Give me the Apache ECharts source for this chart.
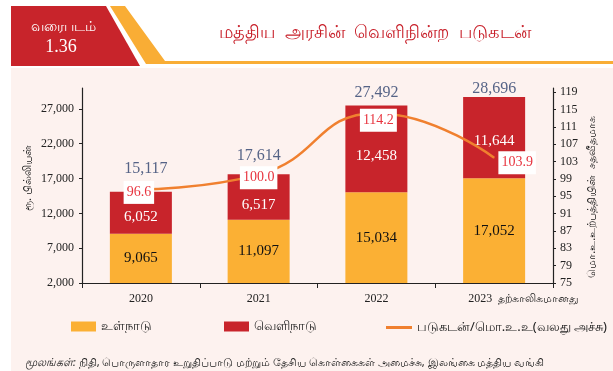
<!DOCTYPE html>
<html>
<head>
<meta charset="utf-8">
<script src="https://cdn.jsdelivr.net/npm/echarts@6/dist/echarts.min.js"></script>
<style>
  html, body { margin: 0; padding: 0; background: #ffffff; }
  #chart { width: 613px; height: 371px; }
</style>
</head>
<body>
<div id="chart"></div>
<script>
// Central government outstanding debt (Rs. billion) and debt/GDP ratio
const years = ['2020', '2021', '2022', '2023'];
const domestic = [9065, 11097, 15034, 17052];
const foreign = [6052, 6517, 12458, 11644];
const totals = [15117, 17614, 27492, 28696];
const debtToGdp = [96.6, 100.0, 114.2, 103.9];
const leftTicks = [2000, 7000, 12000, 17000, 22000, 27000];
const rightTicks = [75, 79, 83, 87, 91, 95, 99, 103, 107, 111, 115, 119];

const SERIF = 'Liberation Serif, Times New Roman, serif';
const SANS = 'Noto Sans, DejaVu Sans, sans-serif';
const RED = '#c8242b';
const ORANGE = '#fbb034';
const LINE = '#f0802f';

const chart = echarts.init(document.getElementById('chart'), null, { renderer: 'canvas' });

const fmt = v => v.toLocaleString('en-US');

// per-point label nudges
const foreignLabelOffsets = [[0, 4], [0, 8], [0, 7], [0, 3]];
const totalLabelOffsets = [[5, -9], [0, -5], [0, 1], [0, 5]];
const ratioLabelOffsets = [[-2, 3], [0, 3], [2, 7], [23, 5]];

chart.setOption({
  animation: false,
  backgroundColor: '#ffffff',
  graphic: [
    { type: 'rect', shape: { x: 11, y: 68, width: 602, height: 303 }, style: { fill: '#fdf2ef' }, z: -10 },
    { type: 'polygon', shape: { points: [[11, 6], [106, 6], [140, 66], [11, 66]] }, style: { fill: RED } },
    { type: 'polygon', shape: { points: [[110, 6], [125, 6], [165, 61], [613, 61], [613, 64], [146, 64]] }, style: { fill: '#f9ad35' } },
    { type: 'text', x: 63, y: 27, style: { text: 'வரைபடம்', fill: '#ffffff', font: '14px ' + SANS, align: 'center', verticalAlign: 'middle' } },
    { type: 'text', x: 61, y: 47, style: { text: '1.36', fill: '#ffffff', font: '18px ' + SERIF, align: 'center', verticalAlign: 'middle' } },
    { type: 'text', x: 375, y: 33, style: { text: 'மத்திய  அரசின்  வெளிநின்ற  படுகடன்', fill: '#c8202a', font: '18px ' + SANS, align: 'center', verticalAlign: 'middle' } },
    { type: 'text', x: 28, y: 178, rotation: Math.PI / 2, style: { text: 'ரூ. பில்லியன்', fill: '#222', font: '11px ' + SANS, align: 'center', verticalAlign: 'middle' } },
    { type: 'text', x: 592, y: 197, rotation: Math.PI / 2, style: { text: 'மொ.உ.உற்பத்தியின்  சதவீதமாக', fill: '#222', font: '11px ' + SANS, align: 'center', verticalAlign: 'middle' } },
    { type: 'text', x: 25, y: 363, style: {
        text: '{i|மூலங்கள்:} நிதி, பொருளாதார உறுதிப்பாடு மற்றும் தேசிய கொள்கைகள் அமைச்சு, இலங்கை மத்திய வங்கி',
        fill: '#222', font: '11px ' + SANS, verticalAlign: 'middle',
        rich: { i: { fontStyle: 'italic', fontSize: 11, fontFamily: SANS, fill: '#222' } }
      } }
  ],
  legend: [
    { data: ['உள்நாடு'], left: 66, top: 315, icon: 'rect', itemWidth: 25, itemHeight: 10, textStyle: { fontFamily: SANS, fontSize: 13, color: '#222' } },
    { data: ['வெளிநாடு'], left: 219, top: 315, icon: 'rect', itemWidth: 25, itemHeight: 10, textStyle: { fontFamily: SANS, fontSize: 13, color: '#222' } },
    { data: ['படுகடன்/மொ.உ.உ(வலது அச்சு)'], left: 381, top: 316, icon: 'rect', itemWidth: 26, itemHeight: 3,
      itemStyle: { color: LINE, opacity: 1 }, textStyle: { fontFamily: SANS, fontSize: 13, color: '#222' } }
  ],
  grid: { left: 82, right: 60, top: 88, bottom: 88 },
  xAxis: {
    type: 'category',
    data: years,
    axisLine: { lineStyle: { color: '#222', width: 1.2 } },
    axisTick: { show: true, length: 5, lineStyle: { color: '#222' } },
    axisLabel: {
      interval: 0, hideOverlap: false,
      color: '#222', fontFamily: SERIF, fontSize: 12, margin: 10,
      formatter: v => v === '2023' ? '{s|}2023  {n|தற்காலிகமானது}' : v,
      rich: { s: { width: 59 }, n: { fontFamily: SANS, fontSize: 11, color: '#222' } }
    }
  },
  yAxis: [
    {
      type: 'value', min: 2000, max: 30000, interval: 5000,
      axisLine: { show: true, lineStyle: { color: '#222', width: 1.2 } },
      axisTick: { show: true, length: 3, customValues: leftTicks, lineStyle: { color: '#222' } },
      axisLabel: { color: '#222', fontFamily: SERIF, fontSize: 12, margin: 8, customValues: leftTicks, formatter: v => fmt(v) },
      splitLine: { show: false }
    },
    {
      type: 'value', min: 75, max: 120, interval: 4, position: 'right',
      axisLine: { show: true, lineStyle: { color: '#222', width: 1.2 } },
      axisTick: { show: true, length: 3, customValues: rightTicks, lineStyle: { color: '#222' } },
      axisLabel: { color: '#222', fontFamily: SERIF, fontSize: 12, margin: 7, customValues: rightTicks },
      splitLine: { show: false }
    }
  ],
  series: [
    {
      name: 'உள்நாடு', type: 'bar', stack: 'debt', barWidth: 62,
      itemStyle: { color: ORANGE },
      label: { show: true, position: 'inside', color: '#111', fontFamily: SERIF, fontSize: 15, formatter: p => fmt(p.value) },
      data: domestic
    },
    {
      name: 'வெளிநாடு', type: 'bar', stack: 'debt', barWidth: 62,
      itemStyle: { color: RED },
      label: { show: true, position: 'inside', color: '#ffffff', fontFamily: SERIF, fontSize: 15, formatter: p => fmt(p.value) },
      data: foreign.map((v, i) => ({ value: v, label: { offset: foreignLabelOffsets[i] } }))
    },
    {
      name: 'total', type: 'scatter', symbolSize: 1, itemStyle: { color: 'rgba(0,0,0,0)' },
      label: { show: true, position: 'top', distance: 5, color: '#2b3f6b', fontFamily: SERIF, fontSize: 16, formatter: p => fmt(p.value) },
      data: totals.map((v, i) => ({ value: v, label: { offset: totalLabelOffsets[i] } })),
      z: 5
    },
    {
      name: 'படுகடன்/மொ.உ.உ(வலது அச்சு)', type: 'line', yAxisIndex: 1, smooth: 0.5,
      symbol: 'circle', symbolSize: 1, showSymbol: true,
      itemStyle: { color: LINE },
      lineStyle: { color: LINE, width: 2.5 },
      label: {
        show: true, position: 'inside', color: '#e8343f', fontFamily: SERIF, fontSize: 14,
        backgroundColor: '#ffffff', padding: [5, 3, 4, 3],
        formatter: p => p.value.toFixed(1)
      },
      data: debtToGdp.map((v, i) => ({ value: v, label: { offset: ratioLabelOffsets[i] } })),
      z: 6
    }
  ]
});
</script>
</body>
</html>
